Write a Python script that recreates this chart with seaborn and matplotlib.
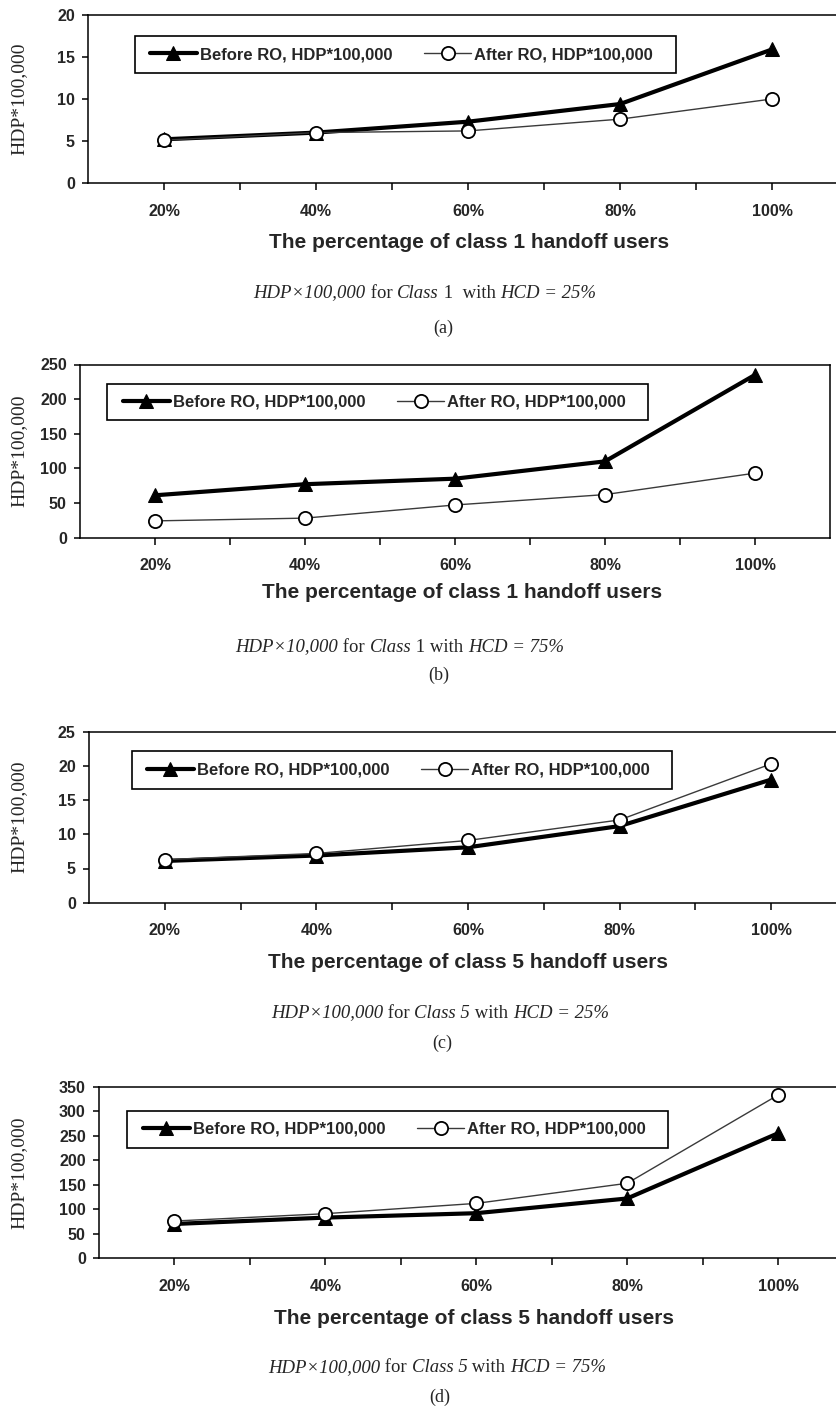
import numpy as np
import matplotlib
matplotlib.use("Agg")
import matplotlib.pyplot as plt
from matplotlib.patches import Rectangle
from matplotlib.transforms import IdentityTransform
import seaborn as sns

# ---- data -------------------------------------------------------------
pct_labels = ["20%", "40%", "60%", "80%", "100%"]

a_before = [5.2, 6.0, 7.3, 9.4, 15.9]
a_after = [5.1, 6.0, 6.2, 7.6, 10.0]

b_before = [61, 77, 85, 110, 235]
b_after = [24, 28, 47, 62, 93]

c_before = [6.1, 6.9, 8.1, 11.2, 18.0]
c_after = [6.3, 7.2, 9.1, 12.1, 20.3]

d_before = [70, 83, 92, 122, 255]
d_after = [76, 91, 112, 153, 333]

y_max = [20, 250, 25, 350]
y_step = [5, 50, 5, 50]
class_ids = ["1", "1", "5", "5"]

legend_before = "Before RO, HDP*100,000"
legend_after = "After RO, HDP*100,000"
y_title = "HDP*100,000"
x_title = "The percentage of class {} handoff users"

# caption segments: (text, italic)
captions = [
    [("HDP×100,000", True), (" for ", False), ("Class", True),
     (" 1  with ", False), ("HCD = 25%", True)],
    [("HDP×10,000", True), (" for ", False), ("Class", True),
     (" 1 with ", False), ("HCD = 75%", True)],
    [("HDP×100,000", True), (" for ", False), ("Class 5", True),
     (" with ", False), ("HCD = 25%", True)],
    [("HDP×100,000", True), (" for ", False), ("Class 5", True),
     (" with ", False), ("HCD = 75%", True)],
]
panel_tags = ["(a)", "(b)", "(c)", "(d)"]

# ---- layout (pixels, origin top-left) ---------------------------------
W, H, DPI = 836, 1412, 100
axes_px = [(88, 15, 848, 183), (80, 364.5, 830, 537.5),
           (89, 731.7, 847, 902.7), (99, 1086.7, 853.5, 1258.3)]
legend_box_px = [(135, 36, 676, 73), (107, 384, 648, 420),
                 (132, 751, 672, 789), (127, 1111, 668, 1148)]
legend_start_px = [150, 123, 147, 143]
xlabel_pos = [(469, 243), (462, 593), (468, 962), (474, 1318)]
caption_pos = [(425, 293), (400, 647), (440, 1013), (437, 1368)]
tag_pos = [(443, 328), (439, 675), (442, 1043), (440, 1397)]

sns.set_style("ticks")
plt.rcParams["font.family"] = ["Liberation Sans", "DejaVu Sans"]
plt.rcParams["axes.linewidth"] = 1.1

SANS = ["Liberation Sans", "DejaVu Sans"]
SERIF = ["Liberation Serif", "DejaVu Serif"]

fig = plt.figure(figsize=(W / DPI, H / DPI), dpi=DPI)
fig.patch.set_facecolor("white")
renderer = fig.canvas.get_renderer()


def fx(px):
    return px / W


def fy(py):
    return 1 - py / H


def seg_width(text, italic, size):
    style = "italic" if italic else "normal"
    probe = fig.text(0, 0, "|" + text + "|", family=SERIF, fontsize=size,
                     style=style)
    bar = fig.text(0, 0, "||", family=SERIF, fontsize=size, style=style)
    w = (probe.get_window_extent(renderer).width
         - bar.get_window_extent(renderer).width)
    probe.remove()
    bar.remove()
    return w


def draw_caption(segments, cx, cy, size=13.5):
    widths = [seg_width(t, it, size) for t, it in segments]
    x = cx - sum(widths) / 2
    for (t, it), w in zip(segments, widths):
        fig.text(x, H - cy, t, family=SERIF, fontsize=size,
                 style="italic" if it else "normal",
                 ha="left", va="center", transform=IdentityTransform())
        x += w


series = [(a_before, a_after), (b_before, b_after),
          (c_before, c_after), (d_before, d_after)]
xpos = np.arange(len(pct_labels))

for i, (before, after) in enumerate(series):
    l, t, r, b = axes_px[i]
    ax = fig.add_axes([fx(l), fy(b), (r - l) / W, (b - t) / H])
    ax.set_facecolor("white")

    sns.lineplot(x=xpos, y=before, ax=ax, color="black", linewidth=3.0,
                 marker="^", markersize=9.5, markeredgecolor="black",
                 markerfacecolor="black", label=legend_before, legend=False)
    sns.lineplot(x=xpos, y=after, ax=ax, color="#3a3a3a", linewidth=1.0,
                 marker="o", markersize=9.5, markeredgecolor="black",
                 markerfacecolor="white", markeredgewidth=1.3,
                 label=legend_after, legend=False)

    ax.set_xlim(-0.5, len(pct_labels) - 0.5)
    ax.set_ylim(0, y_max[i])
    ax.set_yticks(np.arange(0, y_max[i] + y_step[i] / 2, y_step[i]))
    ax.set_xticks(xpos)
    ax.set_xticklabels(pct_labels)
    ax.set_xticks(xpos[:-1] + 0.5, minor=True)
    ax.tick_params(axis="x", which="both", direction="out", length=4.8,
                   width=1.1, pad=10, color="black")
    ax.tick_params(axis="y", direction="out", length=4.5, width=1.1,
                   pad=5, color="black")
    for lab in ax.get_xticklabels() + ax.get_yticklabels():
        lab.set_fontweight("bold")
        lab.set_fontsize(11.5)
        lab.set_family(SANS)
    for sp in ax.spines.values():
        sp.set_visible(True)
        sp.set_color("black")
        sp.set_linewidth(1.1)
    ax.set_xlabel("")
    ax.set_ylabel("")

    # legend with a plain rectangular box
    bl, bt, br, bb = legend_box_px[i]
    ax.add_patch(Rectangle((fx(bl), fy(bb)), (br - bl) / W, (bb - bt) / H,
                           transform=fig.transFigure, facecolor="white",
                           edgecolor="black", linewidth=1.2, zorder=1.5,
                           clip_on=False))
    handles, labels = ax.get_legend_handles_labels()
    leg = ax.legend(handles, labels, ncol=2, loc="center left",
                    bbox_to_anchor=(fx(legend_start_px[i]), fy((bt + bb) / 2)),
                    bbox_transform=fig.transFigure, frameon=False,
                    borderpad=0, borderaxespad=0, handlelength=2.8,
                    handletextpad=0.2, columnspacing=1.9,
                    prop={"family": SANS, "weight": "bold", "size": 12})
    leg.set_zorder(5)

    # axis titles, caption and panel tag
    fig.text(fx(19), fy((t + b) / 2), y_title, family=SERIF, fontsize=14,
             rotation=90, ha="center", va="center")
    xl, yl = xlabel_pos[i]
    fig.text(fx(xl), fy(yl), x_title.format(class_ids[i]), family=SANS,
             fontsize=15, fontweight="bold", ha="center", va="center")
    cx, cy = caption_pos[i]
    draw_caption(captions[i], cx, cy)
    tx, ty = tag_pos[i]
    fig.text(fx(tx), fy(ty), panel_tags[i], family=SERIF, fontsize=13,
             ha="center", va="center")

fig.savefig("out.png", dpi=DPI, facecolor="white")
